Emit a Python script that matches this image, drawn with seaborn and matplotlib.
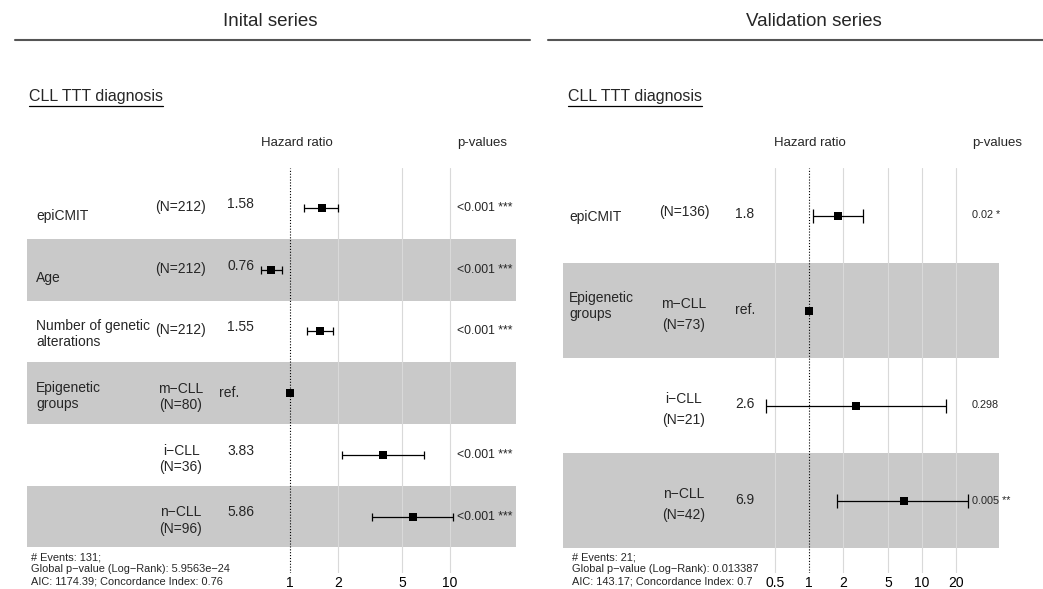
import numpy as np
import pandas as pd
import matplotlib
matplotlib.use("Agg")
import matplotlib.pyplot as plt
import seaborn as sns
from matplotlib.lines import Line2D
from matplotlib.ticker import NullLocator
from matplotlib.transforms import blended_transform_factory

# ---- Initial series: Cox model, CLL time to first treatment ----
init_vars = ["epiCMIT", "Age", "Number of genetic\nalterations", "Epigenetic\ngroups", "", ""]
init_levels = ["(N=212)", "(N=212)", "(N=212)", "m\u2212CLL\n(N=80)", "i\u2212CLL\n(N=36)", "n\u2212CLL\n(N=96)"]
init_hr = [1.58, 0.76, 1.55, 1.0, 3.83, 5.86]
init_lo = [1.22, 0.66, 1.28, 1.0, 2.11, 3.24]
init_hi = [2.00, 0.89, 1.85, 1.0, 6.87, 10.5]
init_ref = [False, False, False, True, False, False]
init_pvals = ["<0.001 ***", "<0.001 ***", "<0.001 ***", "", "<0.001 ***", "<0.001 ***"]
init_footer = ["# Events: 131;",
               "Global p\u2212value (Log\u2212Rank): 5.9563e\u221224",
               "AIC: 1174.39; Concordance Index: 0.76"]
init_ticks = [1, 2, 5, 10]

# ---- Validation series ----
valid_vars = ["epiCMIT", "Epigenetic\ngroups", "", ""]
valid_levels = ["(N=136)", "m\u2212CLL\n(N=73)", "i\u2212CLL\n(N=21)", "n\u2212CLL\n(N=42)"]
valid_hr = [1.8, 1.0, 2.6, 6.9]
valid_lo = [1.08, 1.0, 0.42, 1.77]
valid_hi = [3.0, 1.0, 16.3, 25.5]
valid_ref = [False, True, False, False]
valid_pvals = ["0.02 *", "", "0.298", "0.005 **"]
valid_footer = ["# Events: 21;",
                "Global p\u2212value (Log\u2212Rank): 0.013387",
                "AIC: 143.17; Concordance Index: 0.7"]
valid_ticks = [0.5, 1, 2, 5, 10, 20]

series_titles = ["Inital series", "Validation series"]
subtitle = "CLL TTT diagnosis"

sns.set_theme(style="white")
plt.rcParams["font.family"] = ["Liberation Sans", "DejaVu Sans"]

W, H = 1043, 589
fig = plt.figure(figsize=(W / 100, H / 100), dpi=100)


def fx(px):
    return px / W


def fy(py):
    return 1 - py / H


BAND = "#c9c9c9"
GRID = "#d9d9d9"

panels = [
    dict(vars=init_vars, levels=init_levels, hr=init_hr, lo=init_lo, hi=init_hi,
         ref=init_ref, pvals=init_pvals, footer=init_footer, ticks=init_ticks,
         title=series_titles[0], title_x=270, rule=(15, 530),
         box=(27, 168, 516, 573), one_px=290, decade_px=160,
         first_row=208, row_h=61.7,
         name_x=36, lvl_x=181, est_x=227, ref_x=219, p_x=457,
         hr_head_x=297, p_head_x=482, sub_x=29, foot_x=31,
         off_name1=8, off_name2=3, off_lvl1=-1, off_lvl2=4, off_est=-4,
         lvl_spacing=1.2, p_size=8.8, cap=3.0),
    dict(vars=valid_vars, levels=valid_levels, hr=valid_hr, lo=valid_lo, hi=valid_hi,
         ref=valid_ref, pvals=valid_pvals, footer=valid_footer, ticks=valid_ticks,
         title=series_titles[1], title_x=814, rule=(548, 1043),
         box=(563, 168, 999, 573), one_px=809, decade_px=113,
         first_row=215.5, row_h=95,
         name_x=569, lvl_x=684, est_x=735, ref_x=735, p_x=972,
         hr_head_x=810, p_head_x=997, sub_x=568, foot_x=572,
         off_name1=1.5, off_name2=-4.5, off_lvl1=-3.5, off_lvl2=4, off_est=-1,
         lvl_spacing=1.6, p_size=7.8, cap=4.7),
]

subtitle_texts = []
for P in panels:
    x0, y0, x1, y1 = P["box"]
    ax = fig.add_axes([fx(x0), fy(y1), fx(x1 - x0), (y1 - y0) / H])
    n = len(P["hr"])
    rows = np.arange(n)
    rh = P["row_h"]

    # log axis positioned so that HR=1 falls on one_px
    lo_lim = 10 ** ((x0 - P["one_px"]) / P["decade_px"])
    hi_lim = 10 ** ((x1 - P["one_px"]) / P["decade_px"])
    ax.set_xscale("log")
    ax.set_xlim(lo_lim, hi_lim)
    top = -(P["first_row"] - y0) / rh
    bottom = (n - 1) + (y1 - (P["first_row"] + (n - 1) * rh)) / rh
    ax.set_ylim(bottom, top)

    # alternating row bands
    for i in rows:
        if i % 2 == 1:
            ax.axhspan(i - 0.5, i + 0.5, color=BAND, lw=0, zorder=0)

    for t in P["ticks"]:
        if t != 1:
            ax.axvline(t, color=GRID, lw=0.8, zorder=1)
    ax.axvline(1, color="black", lw=0.8, ls=(0, (1, 1.6)), zorder=2)

    df = pd.DataFrame({"hr": P["hr"], "lo": P["lo"], "hi": P["hi"],
                       "row": rows, "ref": P["ref"]})
    est = df[~df["ref"]]
    ax.errorbar(est["hr"], est["row"],
                xerr=[est["hr"] - est["lo"], est["hi"] - est["hr"]],
                fmt="none", ecolor="black", elinewidth=0.9,
                capsize=P["cap"], capthick=0.9, zorder=3)
    sns.scatterplot(data=df, x="hr", y="row", marker="s", s=36, color="black",
                    edgecolor="black", linewidth=0, ax=ax, zorder=4, legend=False)

    ax.set_xticks(P["ticks"])
    ax.set_xticklabels([f"{t:g}" for t in P["ticks"]])
    ax.xaxis.set_minor_locator(NullLocator())
    ax.set_yticks([])
    ax.tick_params(axis="x", length=0, pad=2.5, labelsize=10, colors="black")
    ax.set_xlabel("")
    ax.set_ylabel("")
    for s in ax.spines.values():
        s.set_visible(False)
    ax.patch.set_alpha(0)

    tr = blended_transform_factory(fig.transFigure, ax.transData)
    for i in rows:
        name = P["vars"][i]
        if name:
            off = P["off_name2"] if "\n" in name else P["off_name1"]
            fig.text(fx(P["name_x"]), i + off / rh, name, transform=tr,
                     ha="left", va="center", fontsize=10, linespacing=1.2)
        lvl = P["levels"][i]
        off = P["off_lvl2"] if "\n" in lvl else P["off_lvl1"]
        fig.text(fx(P["lvl_x"]), i + off / rh, lvl, transform=tr,
                 ha="center", va="center", fontsize=10, linespacing=P["lvl_spacing"])
        if P["ref"][i]:
            fig.text(fx(P["ref_x"]), i, "ref.", transform=tr,
                     ha="left", va="center", fontsize=10)
        else:
            fig.text(fx(P["est_x"]), i + P["off_est"] / rh, f"{P['hr'][i]:g}",
                     transform=tr, ha="left", va="center", fontsize=10)
        if P["pvals"][i]:
            fig.text(fx(P["p_x"]), i, P["pvals"][i], transform=tr,
                     ha="left", va="center", fontsize=P["p_size"])

    # column headers
    fig.text(fx(P["hr_head_x"]), fy(143), "Hazard ratio", ha="center", va="center", fontsize=9.5)
    fig.text(fx(P["p_head_x"]), fy(143), "p-values", ha="center", va="center", fontsize=9.5)

    # model summary
    for k, line in enumerate(P["footer"]):
        fig.text(fx(P["foot_x"]), fy(557 + 12.5 * k), line, ha="left", va="center", fontsize=7.9)

    # series heading and rule
    fig.text(fx(P["title_x"]), fy(22), P["title"], ha="center", va="center", fontsize=13.5)
    fig.add_artist(Line2D([fx(P["rule"][0]), fx(P["rule"][1])], [fy(40), fy(40)],
                          color="#555555", lw=1.5))

    subtitle_texts.append(fig.text(fx(P["sub_x"]), fy(96), subtitle,
                                   ha="left", va="center", fontsize=11.5))

# underline the model subtitles
fig.canvas.draw()
renderer = fig.canvas.get_renderer()
for t in subtitle_texts:
    bb = t.get_window_extent(renderer)
    fig.add_artist(Line2D([bb.x0 / W, bb.x1 / W], [fy(106), fy(106)],
                          color="black", lw=0.9))

fig.savefig("out.png", dpi=100)
